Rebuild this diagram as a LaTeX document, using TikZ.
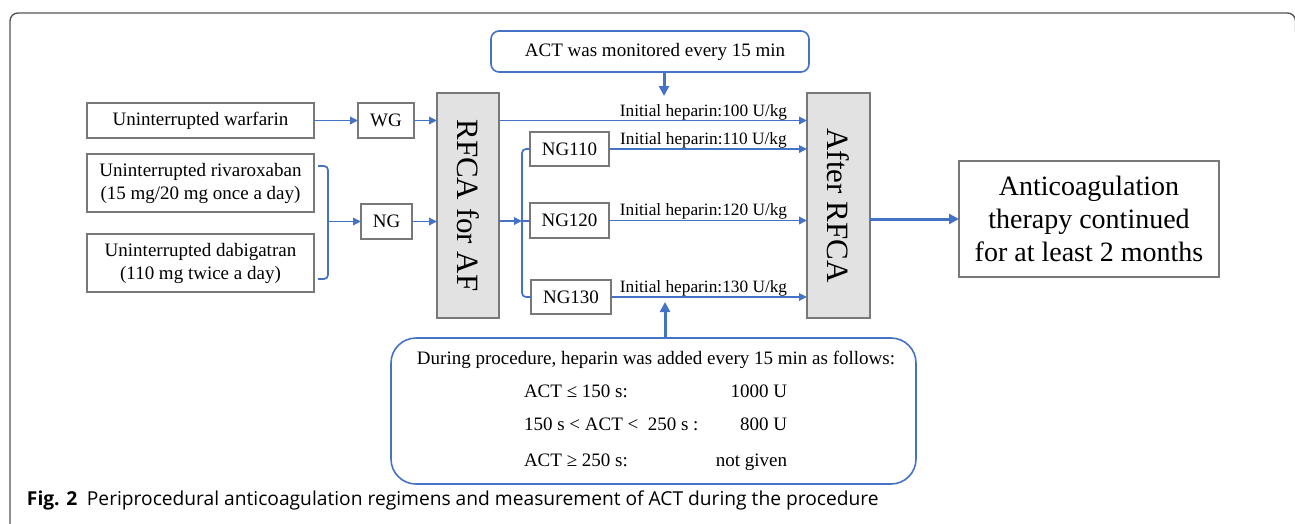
\documentclass[tikz,border=0pt]{standalone}
\usepackage{fontspec}
\setmainfont{Liberation Serif}
\newfontfamily\capfont{Open Sans}
\usetikzlibrary{arrows.meta}
\definecolor{flow}{RGB}{68,114,196}
\definecolor{edge}{RGB}{120,120,120}
\definecolor{frame}{RGB}{85,85,85}
\definecolor{panel}{RGB}{226,226,226}

\begin{document}
\begin{tikzpicture}[x=1pt,y=-1pt,
  every node/.style={inner sep=0pt, outer sep=0pt, font=\fontsize{19}{23}\selectfont},
  box/.style={draw=edge, line width=1.8pt, fill=white, anchor=north west, align=center},
  stage/.style={draw=edge, line width=1.8pt, fill=panel, anchor=north west},
  vtext/.style={rotate=-90, font=\fontsize{31}{31}\selectfont},
  note/.style={draw=flow, line width=1.6pt, anchor=north west, rounded corners=8pt},
  link/.style={flow, line width=1.7pt, -{Triangle[length=8pt,width=7.5pt]}},
  plain/.style={flow, line width=1.7pt},
  bold/.style={flow, line width=3pt, -{Triangle[length=10pt,width=10pt]}},
  dose/.style={anchor=base, font=\fontsize{17.3}{20}\selectfont}
]
\useasboundingbox (0,0) rectangle (1295,523);

% outer panel frame
\draw[frame, line width=1.4pt, rounded corners=8pt] (10,524) -- (10,13) -- (1295.5,13) -- (1295.5,32);

% starting regimens
\node[box, minimum width=227, minimum height=35] (warf) at (87,103) {Uninterrupted warfarin};
\node[box, minimum width=227, minimum height=58] (riva) at (87,154) {Uninterrupted rivaroxaban\\(15 mg/20 mg once a day)};
\node[box, minimum width=227, minimum height=58] (dabi) at (87,234) {Uninterrupted dabigatran\\(110 mg twice a day)};

% groups
\node[box, minimum width=56, minimum height=35] (wg) at (358,103) {WG};
\node[box, minimum width=51, minimum height=35] (ng) at (361,204) {NG};

% ablation stages
\node[stage, minimum width=62, minimum height=225] (rfca) at (437,93) {};
\node[vtext] (rfcatext) at (rfca.center) {RFCA for AF};
\node[stage, minimum width=63, minimum height=225] (after) at (807,93) {};
\node[vtext] (aftertext) at (after.center) {After RFCA};

% NG subgroups
\node[box, minimum width=79, minimum height=34] (ng110) at (530,132) {NG110};
\node[box, minimum width=79, minimum height=35] (ng120) at (530,203) {NG120};
\node[box, minimum width=80, minimum height=34] (ng130) at (531,280) {NG130};

% outcome
\node[box, minimum width=260, minimum height=116, font=\fontsize{28}{33}\selectfont] (final) at (959,161)
  {Anticoagulation\\therapy continued\\for at least 2 months};

% monitoring note
\node[note, minimum width=318, minimum height=41] (monitor) at (491,31) {};
\node (monitortext) at (655,52) {ACT was monitored every 15 min};

% heparin rule note
\node[note, rounded corners=25pt, minimum width=525, minimum height=146] (rule) at (391,338) {};
\node[anchor=base] (rulehead) at (656,364) {During procedure, heparin was added every 15 min as follows:};
\node[anchor=base west] (r1a) at (524,397) {ACT ≤ 150 s:};
\node[anchor=base east] (r1b) at (787,397) {1000 U};
\node[anchor=base west] (r2a) at (524,430) {150 s < ACT <\ \ 250 s :};
\node[anchor=base east] (r2b) at (787,430) {800 U};
\node[anchor=base west] (r3a) at (524,466) {ACT ≥ 250 s:};
\node[anchor=base east] (r3b) at (787,466) {not given};

% connectors: regimens to groups
\draw[link] (warf) -- (wg);
\draw[link] (wg) -- (wg -| rfca.west);
\coordinate (bt) at (318,166);
\coordinate (bb) at (318,279);
\coordinate (bm) at (328,221.5);
\draw[plain, rounded corners=4pt] (bt) -- (bt -| bm) -- (bb -| bm) -- (bb);
\draw[link] (bm) -- (bm -| ng.west);
\draw[link] (ng) -- (ng -| rfca.west);

% split of NG into subgroups
\coordinate (split) at (522,221);
\draw[link] (split -| rfca.east) -- (split);
\draw[plain, rounded corners=4pt] (ng110.west) -- (ng110.west -| split) -- (ng130.west -| split) -- (ng130.west);
\draw[plain] (split) -- (split -| ng120.west);

% initial heparin doses
\draw[link] (warf.east -| rfca.east) -- (warf.east -| after.west);
\draw[link] (ng110) -- (ng110 -| after.west);
\draw[link] (ng120) -- (ng120 -| after.west);
\draw[link] (ng130) -- (ng130 -| after.west);
\node[dose] (d100) at (703.5,116) {Initial heparin:100 U/kg};
\node[dose] (d110) at (703.5,144.5) {Initial heparin:110 U/kg};
\node[dose] (d120) at (703.5,215.5) {Initial heparin:120 U/kg};
\node[dose] (d130) at (703.5,292.5) {Initial heparin:130 U/kg};

% notes feeding the procedure
\coordinate (tap) at (664,96);
\draw[bold] (tap |- monitor.south) -- (tap);
\coordinate (inj) at (665,302);
\draw[bold] (inj |- rule.north) -- (inj);

% to long-term therapy
\draw[bold] (final.west -| after.east) -- (final.west);

% caption
\node[anchor=base west, font=\capfont\fontsize{19.2}{22}\selectfont] (caption) at (27,505)
  {\textbf{Fig. 2}\hspace{0.5em}Periprocedural anticoagulation regimens and measurement of ACT during the procedure};
\end{tikzpicture}
\end{document}
